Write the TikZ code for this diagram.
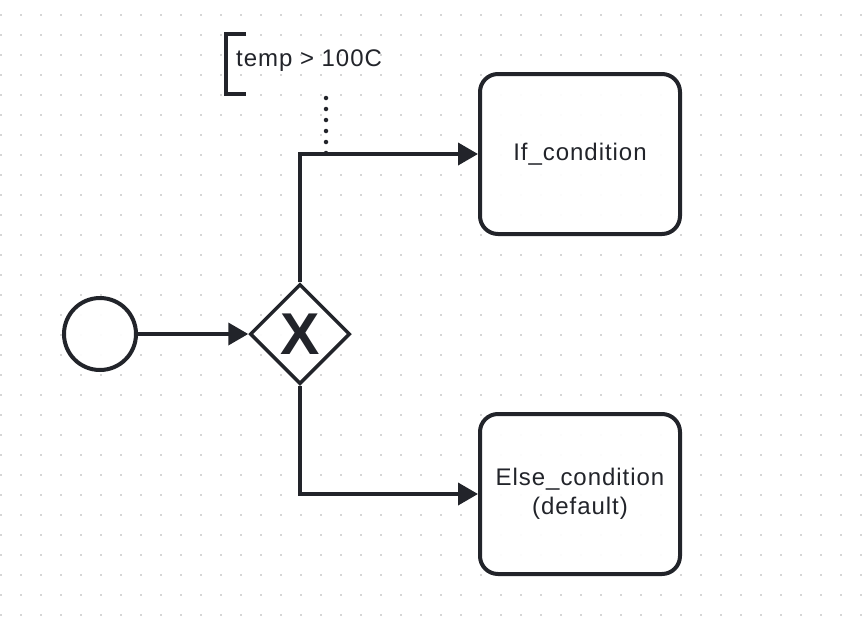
\documentclass[tikz,border=0pt]{standalone}
\usepackage{fontspec}
\setmainfont{Liberation Sans}
\newfontfamily\lblfont[LetterSpace=4]{Liberation Sans}
\usetikzlibrary{arrows.meta,shapes.geometric}
\definecolor{ink}{HTML}{22242A}
\definecolor{dotc}{HTML}{D6D6D6}
\tikzset{
  evt/.style={circle, draw=ink, line width=4pt, fill=white, fill opacity=0.94, text opacity=1, minimum size=72pt, inner sep=0pt},
  gwy/.style={diamond, draw=ink, line width=3.5pt, fill=white, fill opacity=0.94, text opacity=1, minimum size=100pt, inner sep=0pt, text=ink, font=\fontsize{59}{59}\selectfont\bfseries},
  taskbox/.style={rectangle, rounded corners=18pt, draw=ink, line width=4pt, fill=white, fill opacity=0.94, text opacity=1, minimum width=200pt, minimum height=160pt, inner sep=0pt, align=center, text=ink, font=\fontsize{24}{29}\selectfont\lblfont},
  flow/.style={draw=ink, line width=3.8pt, -{Triangle[length=20pt,width=22pt]}},
  assoc/.style={draw=ink, line width=4.5pt, line cap=round, dash pattern=on 0pt off 11pt},
  anntext/.style={text=ink, inner sep=0pt, font=\fontsize{24}{29}\selectfont\lblfont},
}
\begin{document}
\begin{tikzpicture}[x=1pt,y=-1pt]
\useasboundingbox (0,0) rectangle (867,616);
\fill[white] (0,0) rectangle (867,616);
\foreach \i in {0,...,43}{
  \foreach \j in {0,...,30}{
    \fill[dotc] ({0.2+20*\i},{15.8+20*\j}) rectangle ++(1.6,-1.6);
  }
}
\node[evt] (start) at (100,334) {};
\node[gwy] (gw) at (300,334) {X};
\node[taskbox] (ifc) at (580,154) {If\_condition};
\node[taskbox] (elsec) at (580,494) {Else\_condition\\(default)};
\draw[flow] (start) -- (gw.west);
\draw[flow] (gw.north) |- (ifc.west);
\draw[flow] (gw.south) |- (elsec.west);
% annotation
\node[anntext, anchor=base west] (ann) at (236,66) {temp > 100C};
\draw[ink, line width=4pt] (246,34) -- (226,34) -- (226,94) -- (246,94);
\coordinate (assocA) at (326,98);
\coordinate (assocB) at (326,154);
\draw[assoc] (assocA) -- (assocB);
\end{tikzpicture}
\end{document}
